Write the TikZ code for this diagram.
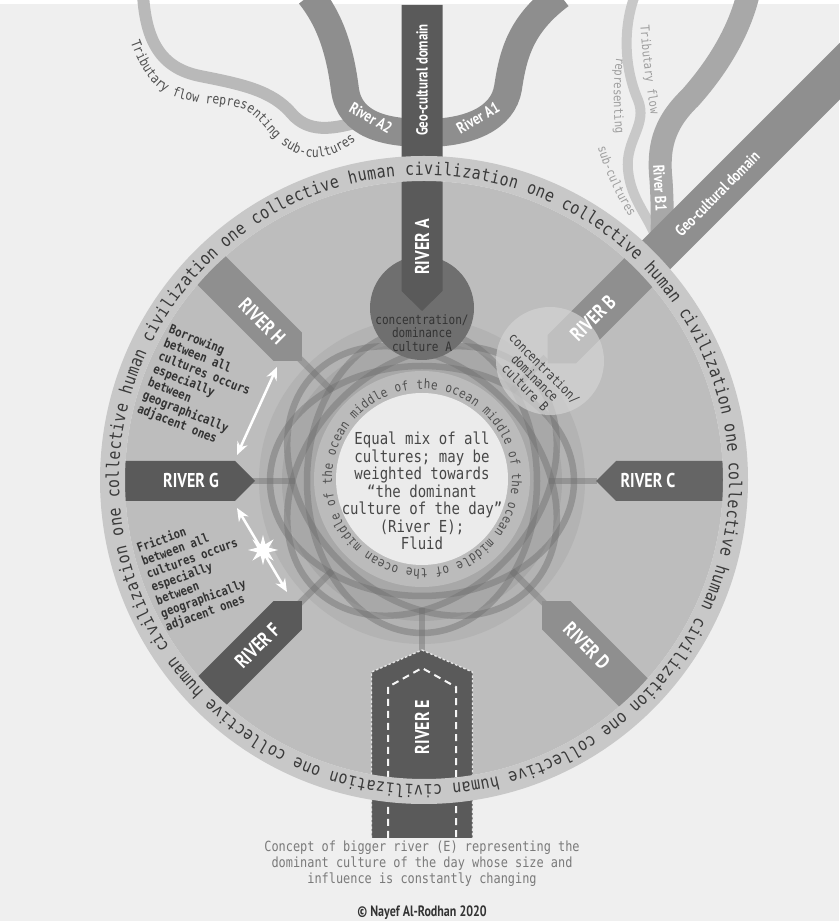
\documentclass[tikz,border=0pt]{standalone}
\usepackage{fontspec}
\newfontfamily\monof[FakeStretch=0.85]{DejaVu Sans Mono}
\newfontfamily\condf[FakeStretch=0.8]{PT Sans}
\usetikzlibrary{decorations.text,shapes.geometric,arrows.meta,calc}
\definecolor{bg}{HTML}{EFEFEF}
\definecolor{ringband}{HTML}{C8C8C8}
\definecolor{disk}{HTML}{BDBDBD}
\definecolor{halo}{HTML}{B3B3B3}
\definecolor{deep}{HTML}{A8A8A8}
\definecolor{oceanring}{HTML}{BBBBBB}
\definecolor{core}{HTML}{EBEBEB}
\definecolor{roseline}{HTML}{707070}
\definecolor{rdark}{HTML}{5A5A5A}
\definecolor{rdarkb}{HTML}{656565}
\definecolor{rmed}{HTML}{8F8F8F}
\definecolor{conA}{HTML}{6F6F6F}
\definecolor{conB}{HTML}{D2D2D2}
\definecolor{streamA}{HTML}{8E8E8E}
\definecolor{tribA}{HTML}{B9B9B9}
\definecolor{streamB}{HTML}{A8A8A8}
\definecolor{tribB}{HTML}{C8C8C8}
\definecolor{txtdark}{HTML}{333333}
\definecolor{ringtxt}{HTML}{3A3A3A}
\definecolor{oceantxt}{HTML}{505050}
\definecolor{captxt}{HTML}{7A7A7A}
\definecolor{tribtxt}{HTML}{9E9E9E}
\newcommand\rivershape[7]{%
  \begin{scope}[shift={(#7)},rotate=#1]
    \fill[#6] (#2,0) -- (#2+#3,#4) -- (#5,#4) -- (#5,-#4) -- (#2+#3,-#4) -- cycle;
  \end{scope}}
\begin{document}
\begin{tikzpicture}[x=1pt,y=1pt,
  rosette/.style={draw=roseline, line width=6.5, draw opacity=0.45},
  riverlbl/.style={font=\condf\bfseries\fontsize{20}{20}\selectfont, text=white, inner sep=0},
  geolbl/.style={font=\condf\bfseries\fontsize{16}{16}\selectfont, text=white, inner sep=0},
  smalltxt/.style={font=\monof\bfseries\fontsize{12.7}{14.2}\selectfont, text=txtdark, align=left, inner sep=0},
  contxt/.style={font=\monof\fontsize{13}{13.5}\selectfont, text=txtdark, align=center, inner sep=0},
  whitearrow/.style={draw=white, line width=2.5, {Stealth[length=13pt,width=11pt]}-{Stealth[length=13pt,width=11pt]}}]
\useasboundingbox (0,0) rectangle (839,921);
\fill[bg] (0,0) rectangle (839,921);
\fill[white] (0,917) rectangle (839,921);
\coordinate (O) at (422,440);
\coordinate (OB) at (426,436);
\coordinate (M) at (424,441);
\coordinate (W) at (422,442);

% streams
\draw[line width=12, tribA] (143,926) .. controls (146,881) and (160,853) .. (200,845) .. controls (240,837) and (272,831) .. (292,807) .. controls (308,789) and (330,791) .. (358,799);
\draw[line width=28, streamA] (310,926) .. controls (330,901) and (340,871) .. (345,831) .. controls (350,796) and (385,788) .. (425,788) .. controls (470,788) and (503,803) .. (508,833) .. controls (513,866) and (520,896) .. (560,926);
\draw[line width=10, tribB] (635,926) .. controls (622,891) and (625,851) .. (638,821) .. controls (648,796) and (625,781) .. (628,751) .. controls (631,721) and (648,706) .. (657,681);
\draw[line width=23, streamB] (748,926) .. controls (738,886) and (715,851) .. (690,823) .. controls (662,796) and (658,771) .. (661,741) .. controls (663,711) and (662,686) .. (662,666);

% tributary texts (drawn at 1/5 scale, enlarged on the canvas)
\begin{scope}[transform canvas={shift={(245,830)},scale=5}]
\begin{scope}[scale=0.2, shift={(-245,-830)}]
\path[decorate, decoration={text along path, text align=center, text color=oceantxt,
  text={|\monof\fontsize{2.7}{2.7}\selectfont|Tributary flow representing sub-cultures}}]
  (128,886) .. controls (138,858) and (150,828) .. (185,821) .. controls (215,815) and (235,818) .. (250,808) .. controls (265,798) and (275,772) .. (305,765) .. controls (325,760) and (345,770) .. (362,786);
\end{scope}
\end{scope}
\begin{scope}[transform canvas={shift={(645,850)},scale=5}]
\begin{scope}[scale=0.2, shift={(-645,-850)}]
\path[decorate, decoration={text along path, text align=center, text color=tribtxt,
  text={|\monof\fontsize{2.5}{2.5}\selectfont|Tributary flow}}]
  (640,902) .. controls (641,880) and (645,840) .. (652,800);
\end{scope}
\end{scope}
\begin{scope}[transform canvas={shift={(615,825)},scale=5}]
\begin{scope}[scale=0.2, shift={(-615,-825)}]
\path[decorate, decoration={text along path, text align=center, text color=tribtxt,
  text={|\monof\fontsize{2.5}{2.5}\selectfont|representing}}]
  (617,867) .. controls (613,845) and (613,810) .. (616,784);
\end{scope}
\end{scope}
\begin{scope}[transform canvas={shift={(615,740)},scale=5}]
\begin{scope}[scale=0.2, shift={(-615,-740)}]
\path[decorate, decoration={text along path, text align=center, text color=tribtxt,
  text={|\monof\fontsize{2.5}{2.5}\selectfont|sub-cultures}}]
  (596,781) .. controls (602,755) and (615,725) .. (634,697);
\end{scope}
\end{scope}

% inner disk and ocean
\fill[disk] (M) circle[radius=299];
\fill[halo] (O) circle[radius=163];
\fill[deep] (O) circle[radius=140];
\foreach \a in {0,45,90,135}
  \draw[rosette, rotate around={\a:(O)}] (O) ellipse[x radius=152, y radius=115];
\foreach \a in {0,45,...,315}
  \draw[rosette] ($(O)+(\a:127)$) -- ($(O)+(\a:175)$);
\fill[oceanring] (W) circle[radius=108];
\fill[core] (W) circle[radius=86];
\begin{scope}[transform canvas={shift={(422,442)},scale=5}]
\begin{scope}[scale=0.2]
\path[decorate, decoration={text along path, text align={fit to path}, text color=oceantxt,
  text={|\monof\fontsize{2.6}{2.6}\selectfont|middle of the ocean middle of the ocean middle of the ocean middle of the ocean}}]
  (138.5:90) arc[start angle=138.5, end angle=-217, radius=90];
\end{scope}
\end{scope}

% concentration A
\fill[conA] (422,613) circle[radius=52];

% rivers
\rivershape{90}{170}{20}{20.5}{476}{rdark}{O}
\rivershape{45}{172}{20}{20}{720}{rmed}{OB}
\rivershape{0}{174}{20}{20}{310}{rdarkb}{O}
\rivershape{-45}{170}{20}{20}{310}{rmed}{O}
\rivershape{-90}{169}{22}{50.5}{357}{rdark}{O}
\rivershape{-135}{170}{20}{20}{310}{rdark}{O}
\rivershape{180}{167}{20}{20}{310}{rdark}{O}
\rivershape{135}{170}{20}{20}{310}{rmed}{O}
\draw[draw=white!80!gray, line width=1.4, dash pattern=on 2.5pt off 2pt] (422,271) -- (472.5,249) -- (472.5,83) (371.5,83) -- (371.5,249) -- (422,271);
\draw[draw=white!92!gray, line width=2, dash pattern=on 7pt off 5pt] (388,83) -- (388,234) -- (422,253) -- (456,234) -- (456,83);

% concentration B
\fill[conB, opacity=0.72] (550,560) circle[radius=54];

% outer ring
\fill[ringband, even odd rule] (M) circle[radius=324] (M) circle[radius=299];
\begin{scope}[transform canvas={shift={(424,441)},scale=5}]
\begin{scope}[scale=0.2]
\path[decorate, decoration={text along path, text align={fit to path}, text color=ringtxt,
  text={|\monof\fontsize{3.5}{3.5}\selectfont|one collective human civilization one collective human civilization one collective human civilization one collective human civilization one collective human civilization one collective human civilization}}]
  (130.6:305) arc[start angle=130.6, end angle=-227.64, radius=305];
\end{scope}
\end{scope}

% river labels
\node[riverlbl, rotate=90] (lA) at ($(O)+(90:234)$) {RIVER A};
\node[riverlbl, rotate=45] (lB) at ($(OB)+(45:236)$) {RIVER B};
\node[riverlbl] (lC) at ($(O)+(0:226)$) {RIVER C};
\node[riverlbl, rotate=-45] (lD) at ($(O)+(-45:233)$) {RIVER D};
\node[riverlbl, rotate=90] (lE) at ($(O)+(-90:246)$) {RIVER E};
\node[riverlbl, rotate=45] (lF) at ($(O)+(-135:233)$) {RIVER F};
\node[riverlbl] (lG) at ($(O)+(180:231)$) {RIVER G};
\node[riverlbl, rotate=-45] (lH) at ($(O)+(135:226)$) {RIVER H};

\node[geolbl, rotate=90] (geoA) at (422,841) {Geo-cultural domain};
\node[geolbl, rotate=45] (geoB) at ($(OB)+(45:412)$) {Geo-cultural domain};
\node[geolbl, rotate=-30] (rA2) at (371,803) {River A2};
\node[geolbl, rotate=30] (rA1) at (478,803) {River A1};
\node[geolbl, rotate=-87] (rB1) at (660,733) {River B1};

% texts
\node[contxt] (concA) at (422,588) {concentration/\\dominance\\culture A};
\node[contxt, text=oceantxt!80!black, rotate=-45] (concB) at (535,543) {concentration/\\dominance\\culture B};
\node[font=\monof\fontsize{16.5}{17.5}\selectfont, text=txtdark!90!white, align=center, inner sep=0] (mix) at (422,430) {Equal mix of all\\cultures; may be\\weighted towards\\“the dominant\\culture of the day”\\(River E);\\Fluid};
\node[smalltxt, rotate=-21.7] (borrow) at (199,534) {Borrowing\\between all\\cultures occurs\\especially\\between\\geographically\\adjacent ones};
\node[smalltxt, rotate=20, font=\monof\bfseries\fontsize{12.5}{13.9}\selectfont] (friction) at (197,349) {Friction\\between all\\cultures occurs\\especially\\between\\geographically\\adjacent ones};
\node[font=\monof\fontsize{14}{16}\selectfont, text=captxt, align=center, inner sep=0] (caption) at (422,57) {Concept of bigger river (E) representing the\\dominant culture of the day whose size and\\influence is constantly changing};
\node[font=\condf\bfseries\fontsize{15}{15}\selectfont, text=txtdark, inner sep=0] (copyright) at (422,8) {© Nayef Al-Rodhan 2020};

% arrows
\coordinate (bor1) at (277,554);
\coordinate (bor2) at (237,466);
\draw[whitearrow] (bor1) -- (bor2);
\coordinate (fri1) at (237,413);
\coordinate (fri2) at (287,329);
\draw[whitearrow] (fri1) -- (fri2);
\node[star, star points=8, star point ratio=2.4, fill=white, minimum size=30, inner sep=0] (burst) at (263,371) {};
\end{tikzpicture}
\end{document}
